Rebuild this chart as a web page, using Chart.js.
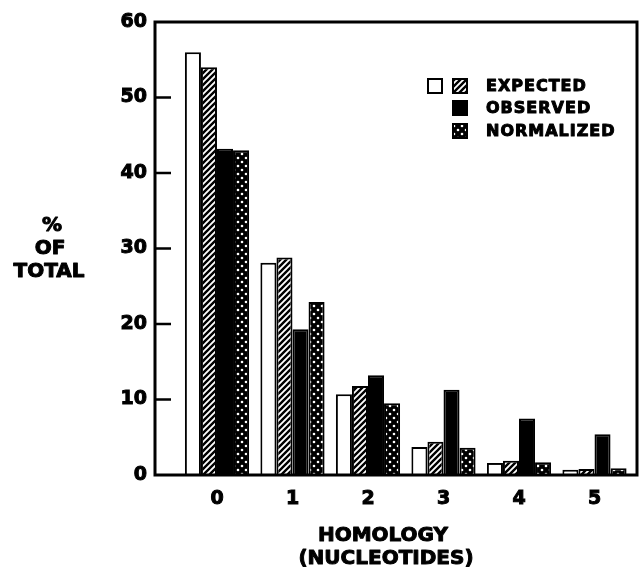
<!DOCTYPE html>
<html>
<head>
<meta charset="utf-8">
<script src="https://cdn.jsdelivr.net/npm/chart.js@4.4.1/dist/chart.umd.min.js"></script>
<style>
html, body { margin: 0; padding: 0; background: #fff; }
</style>
</head>
<body>
<canvas id="homologyChart" width="639" height="569"></canvas>
<script>
var homology = [0, 1, 2, 3, 4, 5];
var expectedOpen = [56.0, 28.1, 10.7, 3.7, 1.6, 0.7];
var expectedHatched = [54.0, 28.8, 11.8, 4.4, 1.9, 0.8];
var observed = [43.2, 19.3, 13.2, 11.3, 7.5, 5.4];
var normalized = [43.0, 22.9, 9.5, 3.6, 1.7, 0.9];
var yTicks = [0, 10, 20, 30, 40, 50, 60];

var FONT = "'DejaVu Sans', 'Liberation Sans', sans-serif";

var ctx = document.getElementById('homologyChart').getContext('2d');

// fill patterns
function hatchPattern() {
    var c = document.createElement('canvas');
    c.width = 6; c.height = 6;
    var g = c.getContext('2d');
    g.fillStyle = '#fff';
    g.fillRect(0, 0, 6, 6);
    g.strokeStyle = '#000';
    g.lineWidth = 2.4;
    g.beginPath();
    g.moveTo(-1, 7); g.lineTo(7, -1);
    g.moveTo(-4, 4); g.lineTo(4, -4);
    g.moveTo(2, 10); g.lineTo(10, 2);
    g.stroke();
    return ctx.createPattern(c, 'repeat');
}

function dotPattern() {
    var c = document.createElement('canvas');
    c.width = 8; c.height = 8;
    var g = c.getContext('2d');
    g.fillStyle = '#000';
    g.fillRect(0, 0, 8, 8);
    g.fillStyle = '#fff';
    g.beginPath(); g.arc(2, 2, 1.3, 0, Math.PI * 2); g.fill();
    g.beginPath(); g.arc(6, 6, 1.3, 0, Math.PI * 2); g.fill();
    return ctx.createPattern(c, 'repeat');
}

var hatch = hatchPattern();
var dots = dotPattern();

function points(values) {
    return values.map(function (v, i) { return { x: homology[i], y: v }; });
}

// box, inward ticks, legend and titles
var decorations = {
    id: 'decorations',
    afterDraw: function (chart) {
        var c = chart.ctx;
        var a = chart.chartArea;
        var y = chart.scales.y;
        c.save();
        c.strokeStyle = '#000';
        c.lineWidth = 3;
        c.strokeRect(a.left, a.top, a.right - a.left, a.bottom - a.top);

        c.lineWidth = 2.5;
        c.beginPath();
        yTicks.slice(1, -1).forEach(function (t) {
            var py = y.getPixelForValue(t);
            c.moveTo(a.left, py);
            c.lineTo(a.left + 16, py);
        });
        c.stroke();

        // legend
        c.lineWidth = 2;
        function box(x, yy, fill) {
            c.fillStyle = fill;
            c.fillRect(x, yy, 14, 14);
            c.strokeRect(x, yy, 14, 14);
        }
        box(428, 79, '#fff');
        box(453, 79, hatch);
        box(453, 101, '#000');
        box(453, 124, dots);

        function heavy(txt, x, yy) {
            c.fillText(txt, x, yy);
            c.strokeText(txt, x, yy);
        }
        c.fillStyle = '#000';
        c.lineWidth = 1;
        c.lineJoin = 'round';
        c.font = 'bold 16px ' + FONT;
        c.textAlign = 'left';
        c.textBaseline = 'middle';
        c.letterSpacing = '1px';
        heavy('EXPECTED', 486, 87);
        heavy('OBSERVED', 486, 109);
        heavy('NORMALIZED', 486, 132);

        c.letterSpacing = '0px';
        c.font = 'bold 20px ' + FONT;
        c.textAlign = 'center';
        heavy('%', 52, 226);
        heavy('OF', 50, 249);
        heavy('TOTAL', 49, 272);

        heavy('HOMOLOGY', 383, 536);
        heavy('(NUCLEOTIDES)', 386, 559);
        c.restore();
    }
};

new Chart(ctx, {
    type: 'bar',
    data: {
        datasets: [{
            label: 'EXPECTED',
            data: points(expectedOpen),
            backgroundColor: '#fff',
            borderColor: '#000',
            borderWidth: 2
        },
        {
            label: 'EXPECTED (hatched)',
            data: points(expectedHatched),
            backgroundColor: hatch,
            borderColor: '#000',
            borderWidth: 2
        },
        {
            label: 'OBSERVED',
            data: points(observed),
            backgroundColor: '#000',
            borderColor: '#000',
            borderWidth: 2
        },
        {
            label: 'NORMALIZED',
            data: points(normalized),
            backgroundColor: dots,
            borderColor: '#000',
            borderWidth: 2
        }]
    },
    options: {
        responsive: false,
        animation: false,
        categoryPercentage: 0.85,
        barPercentage: 1.0,
        layout: { padding: { left: 0, top: 22, right: 2, bottom: 0 } },
        plugins: {
            legend: { display: false },
            tooltip: { enabled: false }
        },
        scales: {
            x: {
                type: 'linear',
                offset: false,
                min: -0.821,
                max: 5.563,
                grid: { display: false, drawTicks: false },
                border: { display: false },
                afterBuildTicks: function (s) {
                    s.ticks = homology.map(function (v) { return { value: v }; });
                },
                afterFit: function (s) { s.height = 94; },
                ticks: {
                    padding: 13,
                    color: '#000',
                    textStrokeColor: '#000',
                    textStrokeWidth: 1,
                    font: { family: FONT, size: 19, weight: 'bold' }
                }
            },
            y: {
                min: 0,
                max: 60,
                grid: { display: false, drawTicks: false },
                border: { display: false },
                afterBuildTicks: function (s) {
                    s.ticks = yTicks.map(function (v) { return { value: v }; });
                },
                afterFit: function (s) { s.width = 155; },
                ticks: {
                    padding: 8,
                    color: '#000',
                    textStrokeColor: '#000',
                    textStrokeWidth: 1,
                    font: { family: FONT, size: 19, weight: 'bold' }
                }
            }
        }
    },
    plugins: [decorations]
});
</script>
</body>
</html>
